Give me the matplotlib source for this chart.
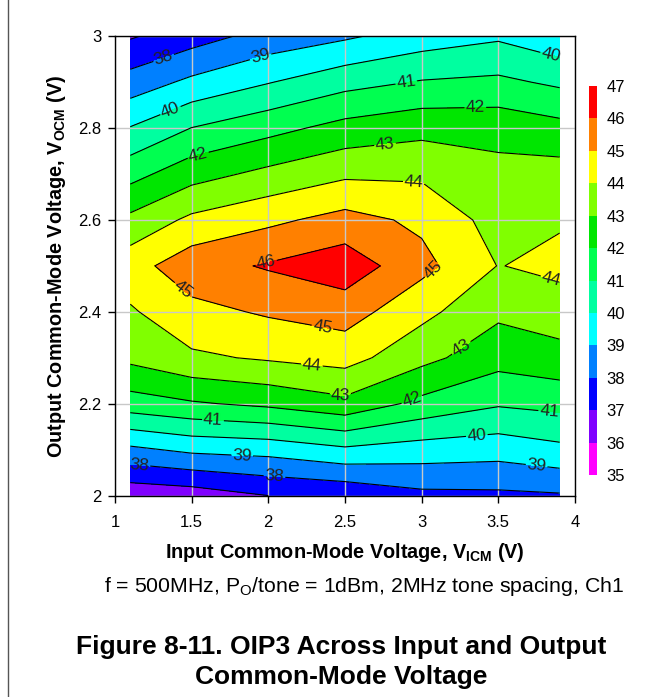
import numpy as np
import matplotlib.pyplot as plt
from matplotlib.lines import Line2D

plt.rcParams['font.family'] = ['Liberation Sans', 'DejaVu Sans']
plt.rcParams['mathtext.fontset'] = 'custom'
plt.rcParams['mathtext.rm'] = 'Liberation Sans'
plt.rcParams['mathtext.bf'] = 'Liberation Sans:bold'

# input common-mode voltage (V)
vicm = [1.1, 1.5, 2.0, 2.5, 3.0, 3.5, 3.9]
# output common-mode voltage (V)
vocm = [2.0, 2.1, 2.2, 2.3, 2.4, 2.5, 2.6, 2.7, 2.8, 2.9, 3.0]
# OIP3 (dBm), one row per VOCM value
oip3 = [
    [36.30, 36.47, 37.00, 37.20, 37.75, 37.80, 37.90],
    [38.79, 39.21, 39.36, 39.83, 39.55, 39.41, 39.75],
    [41.54, 41.89, 42.21, 42.72, 41.72, 41.11, 41.30],
    [43.24, 43.83, 44.12, 44.38, 43.30, 42.38, 42.66],
    [43.88, 44.71, 45.12, 45.45, 44.28, 43.20, 43.50],
    [44.60, 45.60, 46.10, 46.60, 45.30, 43.97, 44.25],
    [43.25, 44.22, 44.78, 45.35, 44.80, 43.60, 43.90],
    [41.65, 42.61, 43.26, 43.82, 43.83, 43.30, 43.40],
    [40.05, 41.02, 41.67, 42.34, 42.70, 42.66, 42.32],
    [38.43, 39.22, 39.95, 40.66, 41.07, 41.21, 40.82],
    [36.90, 37.56, 38.37, 38.85, 39.47, 39.85, 39.30],
]
levels = list(range(35, 48))
band_colors = ['#ff00ff', '#8000ff', '#0000ff', '#0080ff', '#00ffff', '#00ffa0',
               '#00ff50', '#00e600', '#80ff00', '#ffff00', '#ff8000', '#ff0000']

# where the contour numbers sit
label_spots = [(1.32, 2.95), (1.95, 2.955), (1.36, 2.84), (1.54, 2.745), (2.9, 2.9),
               (3.35, 2.85), (2.76, 2.77), (2.95, 2.69), (3.84, 2.955), (1.99, 2.5),
               (1.44, 2.445), (2.35, 2.36), (2.28, 2.27), (2.47, 2.215), (1.64, 2.17),
               (1.83, 2.09), (1.16, 2.068), (2.04, 2.04), (3.08, 2.49), (3.84, 2.465),
               (3.28, 2.31), (2.94, 2.205), (3.83, 2.175), (3.36, 2.13), (3.75, 2.065)]

X, Y = np.meshgrid(vicm, vocm)
Z = np.array(oip3)

fig = plt.figure(figsize=(6.65, 6.97), dpi=100)
ax = fig.add_axes([0.1729, 0.289, 0.6917, 0.659])

cf = ax.contourf(X, Y, Z, levels=levels, colors=band_colors)
cs = ax.contour(X, Y, Z, levels=levels, colors='black', linewidths=0.8)
ax.clabel(cs, manual=label_spots, fmt='%d', fontsize=12.5, inline=True,
          inline_spacing=2, colors='#222222')

ax.set_xlim(1, 4)
ax.set_ylim(2, 3)
ax.set_xticks([1, 1.5, 2, 2.5, 3, 3.5, 4])
ax.set_xticklabels(['1', '1.5', '2', '2.5', '3', '3.5', '4'])
ax.set_yticks([2, 2.2, 2.4, 2.6, 2.8, 3])
ax.set_yticklabels(['2', '2.2', '2.4', '2.6', '2.8', '3'])
ax.grid(True, color='#c8c8c8', linewidth=1)
ax.set_axisbelow('line')
ax.tick_params(direction='out', length=5, width=1, labelsize=12)
ax.tick_params(axis='x', pad=9)
ax.tick_params(axis='y', pad=5)
for s in ax.spines.values():
    s.set_linewidth(1)

ax.set_xlabel(r'Input Common-Mode Voltage, $\mathbf{V_{ICM}}$ (V)',
              fontsize=14.3, fontweight='bold', labelpad=8)
ax.set_ylabel(r'Output Common-Mode Voltage, $\mathbf{V_{OCM}}$ (V)',
              fontsize=14.3, fontweight='bold', labelpad=7)

cax = fig.add_axes([0.8857, 0.3185, 0.012, 0.558])
cb = fig.colorbar(cf, cax=cax, ticks=levels)
cb.outline.set_visible(False)
cax.tick_params(length=0, labelsize=12, pad=7)

fig.text(0.548, 1 - 586 / 697, r'f = 500MHz, P$_\mathrm{O}$/tone = 1dBm, 2MHz tone spacing, Ch1',
         ha='center', va='center', fontsize=15.3)
fig.text(0.5135, 1 - 662 / 697, 'Figure 8-11. OIP3 Across Input and Output\nCommon-Mode Voltage',
         ha='center', va='center', fontsize=19, fontweight='bold', linespacing=1.3)

fig.add_artist(Line2D([8 / 665, 8 / 665], [0, 1], color='#555555', linewidth=1))

fig.savefig('out.png', dpi=100)
